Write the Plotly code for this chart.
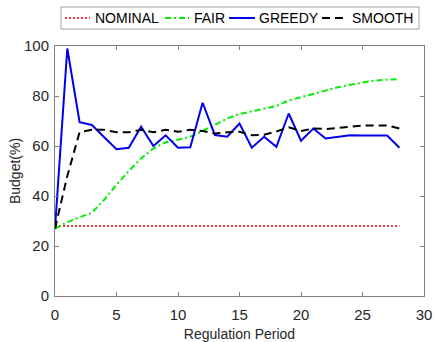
import plotly.graph_objects as go

# Regulation periods 0..28
periods = list(range(29))

nominal = [28] * 29
fair = [27, 29.5, 31.5, 33.3, 38.5, 44.5, 50, 55, 59, 61.5, 62.5, 63.7, 66, 68.4,
        71, 72.8, 73.8, 74.8, 76, 78.2, 79.5, 81, 82.2, 83.5, 84.5, 85.5, 86.2, 86.5, 86.8]
greedy = [27, 99, 69.5, 68.4, 63.5, 58.7, 59.3, 67.7, 60, 64.3, 59.3, 59.5, 77.3, 64.4,
          63.7, 69, 59.3, 63.7, 59.7, 73, 62.1, 67, 63, 63.7, 64.3, 64.2, 64.2, 64.2, 59.3]
smooth = [27, 48, 65.5, 66.5, 66.5, 65.5, 65.5, 66.5, 65.5, 66.5, 65.7, 66.5, 66, 65,
          65.5, 65.7, 64.3, 64.5, 65.8, 67.5, 66, 67, 66.8, 67.3, 68, 68.2, 68.2, 68.2, 67]

series_names = ["NOMINAL", "FAIR", "GREEDY", "SMOOTH"]
series_values = [nominal, fair, greedy, smooth]

x_ticks = [0, 5, 10, 15, 20, 25, 30]
y_ticks = [0, 20, 40, 60, 80, 100]

FONT = "Arial, Liberation Sans, sans-serif"
TEXT = "#262626"
AXIS = "#808080"

styles = [
    dict(color="#ff0000", width=1.5, dash="2px,2px"),
    dict(color="#00ee00", width=2, dash="6px,3px,2px,3px"),
    dict(color="#0000ee", width=2),
    dict(color="#000000", width=2, dash="8px,5px"),
]

W, H = 436, 342
L, R, T, B = 55, 12, 46, 46
PW, PH = W - L - R, H - T - B


def px_x(px):
    return (px - L) / PW


def px_y(py):
    return (H - B - py) / PH


fig = go.Figure()
for name, vals, st in zip(series_names, series_values, styles):
    fig.add_trace(go.Scatter(x=periods, y=vals, name=name, mode="lines",
                             line=st, showlegend=False))

# Horizontal legend box above the axes
shapes = [dict(type="rect", xref="paper", yref="paper",
               x0=px_x(61), x1=px_x(419), y0=px_y(29), y1=px_y(7),
               line=dict(color="#a0a0a0", width=1), fillcolor="white", layer="above")]
annotations = []
legend_items = [(65, 90, 94), (165, 189, 193), (229, 255, 258), (322, 344, 351)]
for (s0, s1, tx), name, st in zip(legend_items, series_names, styles):
    shapes.append(dict(type="line", xref="paper", yref="paper",
                       x0=px_x(s0), x1=px_x(s1), y0=px_y(18), y1=px_y(18),
                       line=st, layer="above"))
    annotations.append(dict(text=name, xref="paper", yref="paper",
                            x=px_x(tx), y=px_y(18.5), xanchor="left", yanchor="middle",
                            showarrow=False, xshift=-1,
                            font=dict(family=FONT, size=14, color="#000000")))

axis_common = dict(
    showline=True, linecolor=AXIS, linewidth=1, mirror="ticks",
    ticks="inside", ticklen=4, tickcolor=AXIS, showgrid=False, zeroline=False,
    automargin=False,
    tickfont=dict(family=FONT, size=15, color=TEXT),
)

fig.update_layout(
    width=W, height=H,
    margin=dict(l=L, r=R, t=T, b=B),
    paper_bgcolor="white", plot_bgcolor="white",
    font=dict(family=FONT, color=TEXT),
    xaxis=dict(range=[0, 30], tickvals=x_ticks, ticklabelstandoff=5,
               title=dict(text="Regulation Period", font=dict(family=FONT, size=14, color=TEXT), standoff=7),
               **axis_common),
    yaxis=dict(range=[0, 100], tickvals=y_ticks, ticklabelstandoff=2,
               title=dict(text="Budget(%)", font=dict(family=FONT, size=14, color=TEXT), standoff=0),
               **axis_common),
    shapes=shapes,
    annotations=annotations,
    showlegend=False,
)

fig.write_html("out.html")
